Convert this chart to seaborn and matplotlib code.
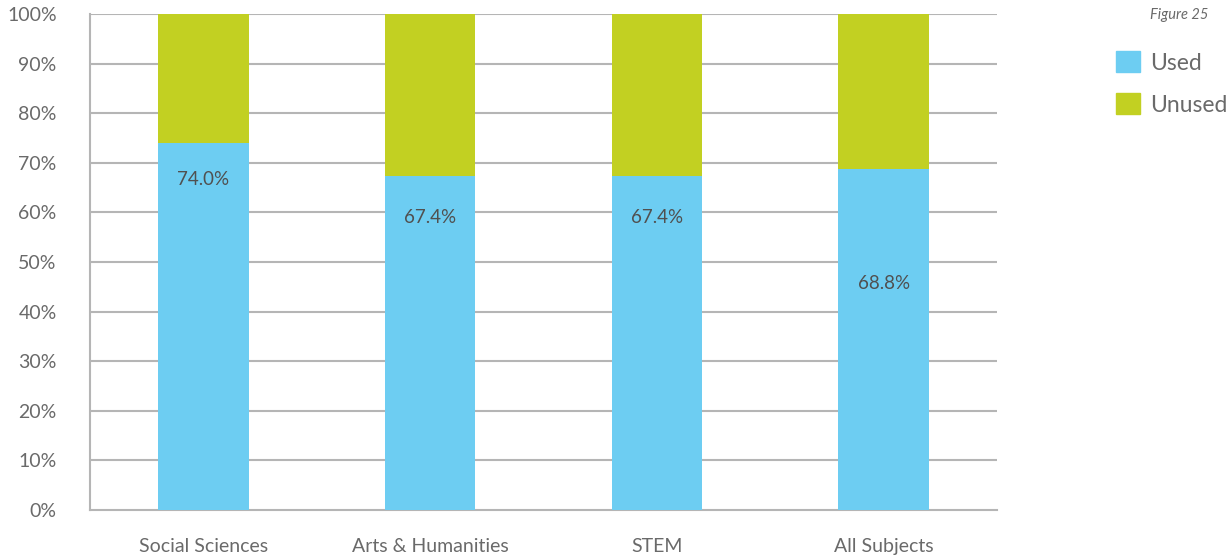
import numpy as np
import pandas as pd
import matplotlib.pyplot as plt
import seaborn as sns

# data
subjects = ["Social Sciences", "Arts & Humanities", "STEM", "All Subjects"]
used = [74.0, 67.4, 67.4, 68.8]
unused = [100 - u for u in used]
label_y = [66.7, 58.9, 58.9, 45.6]

USED_C = "#6DCDF2"
UNUSED_C = "#C2D022"
GRID_C = "#B5B5B5"
TEXT_C = "#6A6A6A"

sns.set_style("white")
plt.rcParams['font.family'] = ['Lato', 'DejaVu Sans']

df = pd.DataFrame({"subject": subjects, "used": used,
                   "total": [u + n for u, n in zip(used, unused)]})

fig = plt.figure(figsize=(12.27, 5.56), dpi=100)
ax = fig.add_axes([90 / 1227, 1 - 510 / 556, (997 - 90) / 1227, (510 - 14) / 556])

ax.set_axisbelow(True)
for y in range(10, 101, 10):
    ax.axhline(y, color=GRID_C, linewidth=1.5, zorder=0)

sns.barplot(data=df, x="subject", y="total", color=UNUSED_C, width=0.4,
            saturation=1, linewidth=0, ax=ax, zorder=2)
sns.barplot(data=df, x="subject", y="used", color=USED_C, width=0.4,
            saturation=1, linewidth=0, ax=ax, zorder=3)

for i, (u, ly) in enumerate(zip(used, label_y)):
    ax.text(i, ly, f"{u:.1f}%", ha="center", va="center", fontsize=13.5,
            color="#505050", zorder=4)

ax.set_xlim(-0.5, 3.5)
ax.set_ylim(0, 100)
ax.set_yticks(range(0, 101, 10))
ax.set_yticklabels([f"{v}%" for v in range(0, 101, 10)])
ax.set_xticks(np.arange(-0.5, 4, 1), minor=True)
ax.tick_params(axis="x", which="minor", length=9, width=1.5, color=GRID_C)
ax.tick_params(axis="x", which="major", length=0, pad=20, labelsize=14,
               labelcolor=TEXT_C)
ax.tick_params(axis="y", length=0, pad=24, labelsize=14, labelcolor=TEXT_C)
ax.set_xlabel("")
ax.set_ylabel("")
for s in ["top", "right"]:
    ax.spines[s].set_visible(False)
for s in ["left", "bottom"]:
    ax.spines[s].set_color(GRID_C)
    ax.spines[s].set_linewidth(1.5)

handles = [plt.Rectangle((0, 0), 1, 1, color=USED_C),
           plt.Rectangle((0, 0), 1, 1, color=UNUSED_C)]
fig.legend(handles, ["Used", "Unused"], loc="upper left",
           bbox_to_anchor=(1107 / 1227, 1 - 42 / 556), frameon=False,
           fontsize=16.5, labelcolor=TEXT_C, handlelength=1.05, handleheight=1.05,
           handletextpad=0.45, labelspacing=0.85, borderaxespad=0)

fig.text(1208 / 1227, 1 - 15 / 556, "Figure 25", ha="right", va="center",
         fontsize=10.5, style="italic", color=TEXT_C)

fig.savefig("out.png", dpi=100)
